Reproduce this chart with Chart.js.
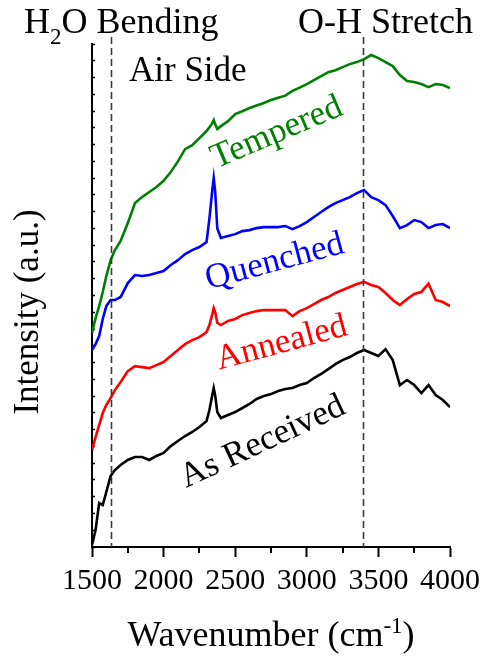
<!DOCTYPE html>
<html>
<head>
<meta charset="utf-8">
<title>Raman spectra – air side</title>
<script src="https://cdn.jsdelivr.net/npm/chart.js@4.4.1/dist/chart.umd.min.js"></script>
<style>
  html, body { margin: 0; padding: 0; background: #ffffff; }
  #wrap { width: 483px; height: 657px; }
</style>
</head>
<body>
<div id="wrap"><canvas id="spectra" width="483" height="657"></canvas></div>
<script>
// Raman shift grid (cm^-1), shared by all four spectra
const wavenumbers = [1500, 1525, 1550, 1575, 1600, 1630, 1660, 1700, 1750, 1800, 1850, 1900, 1950, 2000,
  2050, 2100, 2150, 2200, 2250, 2300, 2320, 2340, 2350, 2360, 2375, 2400, 2450, 2500, 2550, 2600, 2650,
  2700, 2750, 2800, 2850, 2900, 2950, 3000, 3050, 3100, 3150, 3200, 3250, 3300, 3350, 3400, 3450, 3500,
  3550, 3600, 3650, 3700, 3750, 3800, 3850, 3900, 3950, 4000];

// Offset intensities (a.u.), one array per heat treatment
const tempered = [12.76, 13.65, 14.37, 15.21, 16.16, 17.11, 17.71, 18.25, 19.32, 20.51, 20.87, 21.17, 21.47, 21.84,
  22.36, 23.0, 23.73, 23.97, 24.39, 24.81, 25.04, 25.28, 25.46, 25.22, 24.93, 25.1, 25.4, 25.82, 25.99, 26.18, 26.33,
  26.48, 26.66, 26.8, 26.92, 27.2, 27.4, 27.61, 27.85, 28.09, 28.32, 28.44, 28.62, 28.8, 28.92, 29.1, 29.34, 29.16,
  28.92, 28.68, 28.15, 27.79, 27.73, 27.61, 27.43, 27.61, 27.55, 27.37];

const quenched = [11.75, 12.1, 12.58, 13.6, 14.37, 14.73, 14.73, 14.91, 15.74, 16.22, 16.16, 16.22, 16.34, 16.46,
  16.82, 17.11, 17.47, 17.71, 17.89, 18.19, 19.6, 21.29, 22.0, 21.2, 19.0, 18.43, 18.55, 18.66, 18.84, 18.9, 19.02,
  19.08, 19.08, 19.08, 19.14, 18.96, 19.14, 19.38, 19.68, 19.98, 20.27, 20.51, 20.69, 20.87, 21.11, 21.29, 20.87, 20.69,
  20.39, 19.74, 19.02, 19.2, 19.5, 19.38, 19.02, 19.2, 19.26, 19.02];

const annealed = [5.78, 6.56, 7.27, 7.99, 8.47, 8.88, 9.36, 9.84, 10.49, 10.79, 10.73, 10.67, 10.85, 11.03,
  11.39, 11.75, 12.1, 12.34, 12.52, 12.82, 13.24, 13.89, 14.25, 14.01, 13.36, 13.24, 13.48, 13.6, 13.83, 13.95, 14.07,
  14.13, 14.13, 14.13, 14.13, 13.77, 14.07, 14.25, 14.49, 14.73, 14.91, 15.15, 15.33, 15.51, 15.69, 15.81, 15.63, 15.51,
  15.15, 14.73, 14.43, 14.79, 15.09, 15.21, 15.7, 14.73, 14.61, 14.37];

const asReceived = [0.12, 1.01, 2.62, 2.5, 3.28, 4.23, 4.59, 4.89, 5.19, 5.37, 5.37, 5.19, 5.43, 5.61,
  6.02, 6.32, 6.62, 6.86, 7.16, 7.51, 8.17, 9.06, 9.48, 9.06, 8.05, 7.69, 7.87, 8.05, 8.29, 8.53, 8.83,
  9.0, 9.12, 9.3, 9.42, 9.48, 9.66, 9.78, 10.08, 10.32, 10.61, 10.91, 11.15, 11.33, 11.57, 11.75, 11.57, 11.39,
  11.8, 11.15, 9.66, 9.96, 9.66, 9.18, 9.66, 9.06, 8.77, 8.35];

const seriesNames = ['Tempered', 'Quenched', 'Annealed', 'As Received'];
const seriesColors = ['#008000', '#0000ff', '#ff0000', '#000000'];

// Band positions marked with dashed guides
const markerWavenumbers = [1630, 3390];
const minorTicks = [1750, 2250, 2750, 3250, 3750];

// Where each series name sits, in data coordinates, and its tilt
const labelPlacement = [
  { x: 2790, y: 24.7, angle: -23 },
  { x: 2776, y: 17.0, angle: -15 },
  { x: 2825, y: 12.15, angle: -15 },
  { x: 2692, y: 6.25, angle: -25 }
];

const SERIF = '"Liberation Serif", "Times New Roman", Times, serif';

function toPoints(values) {
  return wavenumbers.map((w, i) => ({ x: w, y: values[i] }));
}

const spectra = [tempered, quenched, annealed, asReceived];

const annotationPlugin = {
  id: 'annotations',
  afterDatasetsDraw(chart) {
    const { ctx, chartArea, scales } = chart;
    const xs = scales.x, ys = scales.y;
    ctx.save();
    // dashed band guides
    ctx.setLineDash([7, 4]);
    ctx.strokeStyle = '#3a3a3a';
    ctx.lineWidth = 1.6;
    markerWavenumbers.forEach(w => {
      const px = Math.round(xs.getPixelForValue(w)) + 0.5;
      ctx.beginPath();
      ctx.moveTo(px, chartArea.top - 7);
      ctx.lineTo(px, chartArea.bottom);
      ctx.stroke();
    });
    ctx.setLineDash([]);

    // series names along the curves
    ctx.textAlign = 'center';
    ctx.textBaseline = 'middle';
    ctx.font = '35px ' + SERIF;
    seriesNames.forEach((name, i) => {
      const p = labelPlacement[i];
      ctx.save();
      ctx.translate(xs.getPixelForValue(p.x), ys.getPixelForValue(p.y));
      ctx.rotate(p.angle * Math.PI / 180);
      ctx.fillStyle = seriesColors[i];
      ctx.fillText(name, 0, 0);
      ctx.restore();
    });
    ctx.restore();
  },
  afterDraw(chart) {
    const { ctx, chartArea, scales } = chart;
    const xs = scales.x;
    ctx.save();
    // minor x ticks
    ctx.strokeStyle = '#000';
    ctx.lineWidth = 2;
    minorTicks.forEach(w => {
      const px = Math.round(xs.getPixelForValue(w));
      ctx.beginPath();
      ctx.moveTo(px, chartArea.bottom);
      ctx.lineTo(px, chartArea.bottom + 6);
      ctx.stroke();
    });

    ctx.fillStyle = '#000';
    ctx.textBaseline = 'alphabetic';
    ctx.textAlign = 'left';
    const big = '36px ' + SERIF, small = '23px ' + SERIF;

    // H2O Bending, with subscript
    let x = 24;
    ctx.font = big; ctx.fillText('H', x, 33); x += ctx.measureText('H').width;
    ctx.font = small; ctx.fillText('2', x, 44); x += ctx.measureText('2').width;
    ctx.font = big; ctx.fillText('O Bending', x, 33);

    ctx.fillText('O-H Stretch', 298, 33);
    ctx.font = '35px ' + SERIF;
    ctx.fillText('Air Side', 129, 81);

    // x-axis title with superscript
    const t1 = 'Wavenumber (cm', t2 = '-1', t3 = ')';
    ctx.font = big; const w1 = ctx.measureText(t1).width, w3 = ctx.measureText(t3).width;
    ctx.font = small; const w2 = ctx.measureText(t2).width;
    const cx = (chartArea.left + chartArea.right) / 2;
    x = cx - (w1 + w2 + w3) / 2;
    ctx.font = big; ctx.fillText(t1, x, 646); x += w1;
    ctx.font = small; ctx.fillText(t2, x, 633); x += w2;
    ctx.font = big; ctx.fillText(t3, x, 646);

    // y-axis title
    ctx.save();
    ctx.translate(38, 312);
    ctx.rotate(-Math.PI / 2);
    ctx.textAlign = 'center';
    ctx.font = '35px ' + SERIF;
    ctx.fillText('Intensity (a.u.)', 0, 0);
    ctx.restore();
    ctx.restore();
  }
};

new Chart(document.getElementById('spectra'), {
  type: 'line',
  data: {
    datasets: spectra.map((vals, i) => ({
      label: seriesNames[i],
      data: toPoints(vals),
      borderColor: seriesColors[i],
      backgroundColor: seriesColors[i],
      borderWidth: 2.6,
      pointRadius: 0,
      tension: 0,
      fill: false
    }))
  },
  options: {
    responsive: false,
    animation: false,
    devicePixelRatio: 1,
    layout: { padding: { top: 44, right: 33, left: 0, bottom: 0 } },
    plugins: { legend: { display: false }, tooltip: { enabled: false } },
    scales: {
      x: {
        type: 'linear',
        min: 1500,
        max: 4000,
        ticks: {
          stepSize: 500,
          autoSkip: false,
          maxRotation: 0,
          color: '#000',
          padding: 6,
          font: { family: SERIF, size: 30 },
          callback: value => String(value)
        },
        grid: { drawOnChartArea: false, tickLength: 10, tickWidth: 2, tickColor: '#000' },
        border: { color: '#000', width: 2 },
        afterFit(scale) {
          scale.height = 110;
          scale.paddingLeft = 0;
          scale.paddingRight = 0;
        }
      },
      y: {
        min: 0,
        max: 30,
        ticks: { stepSize: 1, display: false },
        grid: { drawOnChartArea: false, tickLength: -3, tickWidth: 1.5, tickColor: '#000' },
        border: { color: '#000', width: 2 },
        afterFit(scale) { scale.width = 92; }
      }
    }
  },
  plugins: [annotationPlugin]
});
</script>
</body>
</html>
